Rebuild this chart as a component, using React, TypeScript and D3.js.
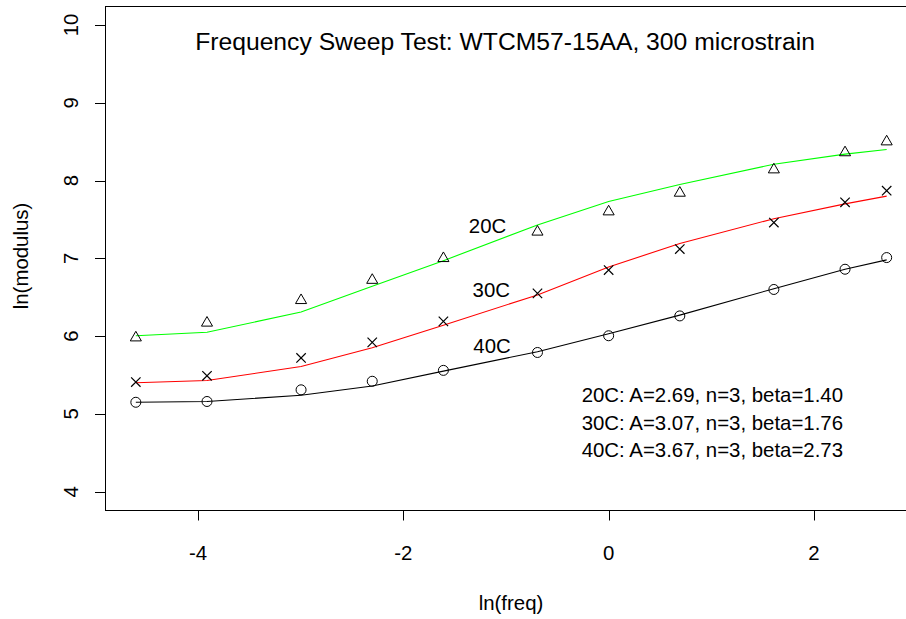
import React from 'react';
import * as d3 from 'd3';

// Frequencies (Hz) of the sweep; x axis is ln(freq)
const freqHz = [0.01, 0.02, 0.05, 0.1, 0.2, 0.5, 1, 2, 5, 10, 15];

// Measured ln(modulus)
const measured20C = [5.98, 6.17, 6.46, 6.72, 7.0, 7.34, 7.6, 7.84, 8.14, 8.36, 8.5];
const measured30C = [5.41, 5.49, 5.72, 5.92, 6.19, 6.55, 6.85, 7.12, 7.46, 7.72, 7.87];
const measured40C = [5.15, 5.16, 5.31, 5.42, 5.56, 5.79, 6.005, 6.26, 6.6, 6.86, 7.01];

// Fitted ln(modulus)
const fitted20C = [6.005, 6.05, 6.31, 6.64, 6.97, 7.43, 7.73, 7.95, 8.21, 8.34, 8.4];
const fitted30C = [5.4, 5.43, 5.61, 5.85, 6.14, 6.53, 6.89, 7.19, 7.51, 7.7, 7.8];
const fitted40C = [5.15, 5.16, 5.24, 5.36, 5.55, 5.8, 6.03, 6.27, 6.61, 6.86, 6.98];

const xTicks = [-4, -2, 0, 2];
const yTicks = [4, 5, 6, 7, 8, 9, 10];
const yLimits = [4, 10];

const seriesNames = ['20C', '30C', '40C'];
const fitNotes = [
  '20C: A=2.69, n=3, beta=1.40',
  '30C: A=3.07, n=3, beta=1.76',
  '40C: A=3.67, n=3, beta=2.73',
];

const titleText = 'Frequency Sweep Test: WTCM57-15AA, 300 microstrain';
const xLabel = 'ln(freq)';
const yLabel = 'ln(modulus)';

const FONT = '"Liberation Sans", Arial, Helvetica, sans-serif';
const FS = 20.4;

export default function App() {
  const lnF = freqHz.map((f) => Math.log(f));
  const [xmin, xmax] = d3.extent(lnF) as [number, number];
  const xpad = (xmax - xmin) * 0.04;
  const ypad = (yLimits[1] - yLimits[0]) * 0.04;

  const left = 105.8;
  const right = 916.7;
  const top = 6.3;
  const bottom = 510.4;

  const x = d3.scaleLinear().domain([xmin - xpad, xmax + xpad]).range([left, right]);
  const y = d3.scaleLinear().domain([yLimits[0] - ypad, yLimits[1] + ypad]).range([bottom, top]);

  const line = d3
    .line<number>()
    .x((_, i) => x(lnF[i]))
    .y((d) => y(d));

  const fits = [
    { data: fitted20C, color: '#00FF00' },
    { data: fitted30C, color: '#FF0000' },
    { data: fitted40C, color: '#000000' },
  ];

  const triR = 6.4;
  const triPath = (cx: number, cy: number) => {
    const hw = triR * 0.866;
    return `M${cx},${cy - triR}L${cx + hw},${cy + triR / 2}L${cx - hw},${cy + triR / 2}Z`;
  };
  const cs = 4.7;
  const crossPath = (cx: number, cy: number) =>
    `M${cx - cs},${cy - cs}L${cx + cs},${cy + cs}M${cx - cs},${cy + cs}L${cx + cs},${cy - cs}`;

  // label anchors (layout, in pixels)
  const labelPos = [
    { x: 487.5, y: 233.3 },
    { x: 491.3, y: 296.7 },
    { x: 492, y: 352.7 },
  ];
  const noteBaselines = [401.7, 429.5, 457.3];

  return (
    <svg
      width={906}
      height={619}
      style={{ position: 'absolute', left: 0, top: 0, background: '#fff', display: 'block' }}
      fontFamily={FONT}
    >
      <rect x={0} y={0} width={906} height={619} fill="#fff" />
      {/* plot box */}
      <rect
        x={105.5}
        y={6.5}
        width={right - 105.5}
        height={510.5 - 6.5}
        fill="none"
        stroke="#000"
        strokeWidth={1}
      />

      {/* y axis */}
      {yTicks.map((t) => {
        const py = Math.round(y(t)) + 0.5;
        return (
          <g key={'y' + t}>
            <line x1={95} x2={105.5} y1={py} y2={py} stroke="#000" />
            <text
              transform={`translate(77.6,${y(t)}) rotate(-90)`}
              textAnchor="middle"
              fontSize={FS}
              fill="#000"
            >
              {t}
            </text>
          </g>
        );
      })}

      {/* x axis */}
      {xTicks.map((t) => {
        const px = Math.round(x(t)) + 0.5;
        return (
          <g key={'x' + t}>
            <line x1={px} x2={px} y1={510.5} y2={520.5} stroke="#000" />
            <text x={x(t)} y={559.5} textAnchor="middle" fontSize={FS} fill="#000">
              {t}
            </text>
          </g>
        );
      })}

      {/* axis titles */}
      <text x={511} y={609.6} textAnchor="middle" fontSize={FS} fill="#000">
        {xLabel}
      </text>
      <text transform="translate(27.6,256) rotate(-90)" textAnchor="middle" fontSize={FS} fill="#000">
        {yLabel}
      </text>

      {/* title */}
      <text x={505} y={50} textAnchor="middle" fontSize={24.7} fill="#000">
        {titleText}
      </text>

      {/* fitted lines */}
      {fits.map((f, i) => (
        <path key={'f' + i} d={line(f.data) || ''} fill="none" stroke={f.color} strokeWidth={1.1} />
      ))}

      {/* measured points */}
      {measured20C.map((v, i) => (
        <path key={'t' + i} d={triPath(x(lnF[i]), y(v))} fill="none" stroke="#000" strokeWidth={1} />
      ))}
      {measured30C.map((v, i) => (
        <path key={'c' + i} d={crossPath(x(lnF[i]), y(v))} fill="none" stroke="#000" strokeWidth={1.2} />
      ))}
      {measured40C.map((v, i) => (
        <circle key={'o' + i} cx={x(lnF[i])} cy={y(v)} r={5} fill="none" stroke="#000" strokeWidth={1} />
      ))}

      {/* series labels */}
      {seriesNames.map((s, i) => (
        <text key={s} x={labelPos[i].x} y={labelPos[i].y} textAnchor="middle" fontSize={FS} fill="#000">
          {s}
        </text>
      ))}

      {/* fit notes */}
      {fitNotes.map((n, i) => (
        <text key={'n' + i} x={581.7} y={noteBaselines[i]} fontSize={FS} fill="#000">
          {n}
        </text>
      ))}
    </svg>
  );
}
